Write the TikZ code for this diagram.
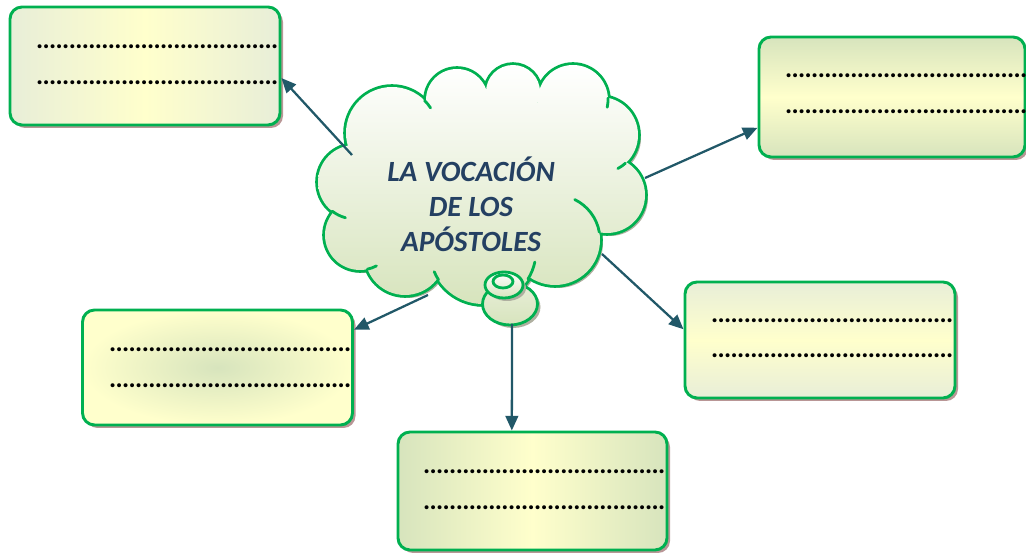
\documentclass[tikz,border=0pt]{standalone}
\usepackage{fontspec}
\setmainfont{Carlito}
\usetikzlibrary{arrows.meta,shadows,calc}
\definecolor{lgreen}{RGB}{0,176,80}
\definecolor{gedge}{RGB}{215,228,189}
\definecolor{gedgel}{RGB}{232,238,216}
\definecolor{ymid}{RGB}{255,255,204}
\definecolor{boxshadow}{RGB}{185,150,150}
\definecolor{cloudshadow}{RGB}{175,175,160}
\definecolor{arrowcol}{RGB}{33,88,104}
\definecolor{titlecol}{RGB}{36,64,98}
\newcommand\dotrowtext{\hbox to 181.5pt{\cleaders\hbox to 4.9pt{\hss.\hss}\hfill}}
\tikzset{
  box/.style={rectangle, rounded corners=9pt, draw=lgreen, line width=2.2pt,
    inner sep=0pt,
    drop shadow={shadow xshift=2.25pt, shadow yshift=-2.25pt, fill=boxshadow, opacity=1}},
  dotrow/.style={inner sep=0pt, anchor=base west, font=\fontsize{20}{20}\selectfont\bfseries},
  arr/.style={draw=arrowcol, line width=1.7pt, -{Triangle[length=11pt, width=9.5pt]}},
  cloudline/.style={draw=lgreen, line width=2.1pt, line cap=round},
  titletext/.style={anchor=base, text=titlecol, font=\fontsize{22}{26}\selectfont\bfseries\itshape, inner sep=0pt}
}
\def\lobelist{392/133/46, 457/100/31, 513/92/27, 573/100/35, 600/135/38, 607/195/38, 555/240/45, 483/251/53, 405/255/40, 360/235/35, 355/182/37}
\begin{document}
\begin{tikzpicture}[x=0.75pt,y=-0.75pt]
\useasboundingbox (0,0) rectangle (1026,555);
% boxes
\node[box, minimum width=202.5pt, minimum height=88.5pt, left color=gedgel, right color=gedgel, middle color=ymid] (b1) at (145,66) {};
\node[box, minimum width=199.5pt, minimum height=90pt, top color=gedge, bottom color=gedge, middle color=ymid] (b2) at (892,97) {};
\node[box, minimum width=202.5pt, minimum height=87pt, top color=gedgel, bottom color=gedgel, middle color=ymid] (b3) at (820,340) {};
\node[box, minimum width=202.5pt, minimum height=86.25pt, inner color=gedge, outer color=ymid] (b4) at (217.5,367.5) {};
\node[box, minimum width=201.75pt, minimum height=88.5pt, left color=gedge, right color=gedge, middle color=ymid] (b5) at (532.5,491) {};
% dotted text rows
\node[dotrow] (r1a) at (36,49) {\dotrowtext};
\node[dotrow] (r1b) at (36,84.5) {\dotrowtext};
\node[dotrow] (r2a) at (785,78) {\dotrowtext};
\node[dotrow] (r2b) at (785,113.7) {\dotrowtext};
\node[dotrow] (r3a) at (711,323) {\dotrowtext};
\node[dotrow] (r3b) at (711,358) {\dotrowtext};
\node[dotrow] (r4a) at (109,351.4) {\dotrowtext};
\node[dotrow] (r4b) at (109,388) {\dotrowtext};
\node[dotrow] (r5a) at (423,473.7) {\dotrowtext};
\node[dotrow] (r5b) at (423,509.7) {\dotrowtext};
% cloud
\fill[cloudshadow] \foreach \cx/\cy/\cr in \lobelist {(\cx+3,\cy+3) circle[radius=\cr]} (488,183) ellipse[x radius=110, y radius=75];
\draw[draw=lgreen, line width=4.2pt] \foreach \cx/\cy/\cr in \lobelist {(\cx,\cy) circle[radius=\cr]};
\shade[top color=white, bottom color=gedge] \foreach \cx/\cy/\cr in \lobelist {(\cx,\cy) circle[radius=\cr]} (485,180) ellipse[x radius=110, y radius=75] (488,125) circle[radius=22] (540,125) circle[radius=22] (395,210) circle[radius=25];
% inner strokes of the cloud
\draw[cloudline] (555,240) ++(-64:45) arc[start angle=-64, end angle=-10, radius=45];
\draw[cloudline] (483,251) ++(12:53) arc[start angle=12, end angle=32, radius=53];
\draw[cloudline] (600,135) ++(48:38) arc[start angle=48, end angle=62, radius=38];
\draw[cloudline] (392,133) ++(-45:46) arc[start angle=-45, end angle=-33, radius=46];
\draw[cloudline] (355,182) ++(128:37) arc[start angle=128, end angle=105, radius=37];
\draw[cloudline] (360,235) ++(78:35) arc[start angle=78, end angle=62, radius=35];
\draw[cloudline] (483,251) ++(147:53) arc[start angle=147, end angle=157, radius=53];
\draw[cloudline] (573,100) ++(-3:35) arc[start angle=-3, end angle=12, radius=35];
% thought bubbles
\fill[cloudshadow] (513,307) ellipse[x radius=27.5, y radius=21];
\shade[top color=gedgel, bottom color=gedge, draw=lgreen, line width=2.1pt] (510,304) ellipse[x radius=27.5, y radius=21];
\fill[cloudshadow] (507,288) ellipse[x radius=19, y radius=13];
\shade[top color=white, bottom color=gedge, draw=lgreen, line width=2.1pt] (504,285) ellipse[x radius=19, y radius=13];
\draw[draw=lgreen, line width=2.1pt] (503,281.5) ellipse[x radius=10, y radius=6.5];
% title
\node[titletext] (t1) at (471,181.7) {LA VOCACIÓN};
\node[titletext] (t2) at (471,216.7) {DE LOS};
\node[titletext] (t3) at (471,251.7) {APÓSTOLES};
% connectors
\coordinate (c1) at (352,155);
\coordinate (c2) at (645,178);
\coordinate (c3) at (602,254);
\coordinate (c4) at (428,295);
\coordinate (c5) at (512,324);
\draw[arr] (c1) -- ($(b1.north east)!0.6!(b1.south east)$);
\draw[arr] (c2) -- ($(b2.north west)!0.75!(b2.south west)$);
\draw[arr] (c3) -- ($(b3.north west)!0.41!(b3.south west)$);
\draw[arr] (c4) -- ($(b4.north east)!0.18!(b4.south east)$);
\draw[arr] (c5) -- ($(b5.north west)!0.424!(b5.north east)$);
\end{tikzpicture}
\end{document}
